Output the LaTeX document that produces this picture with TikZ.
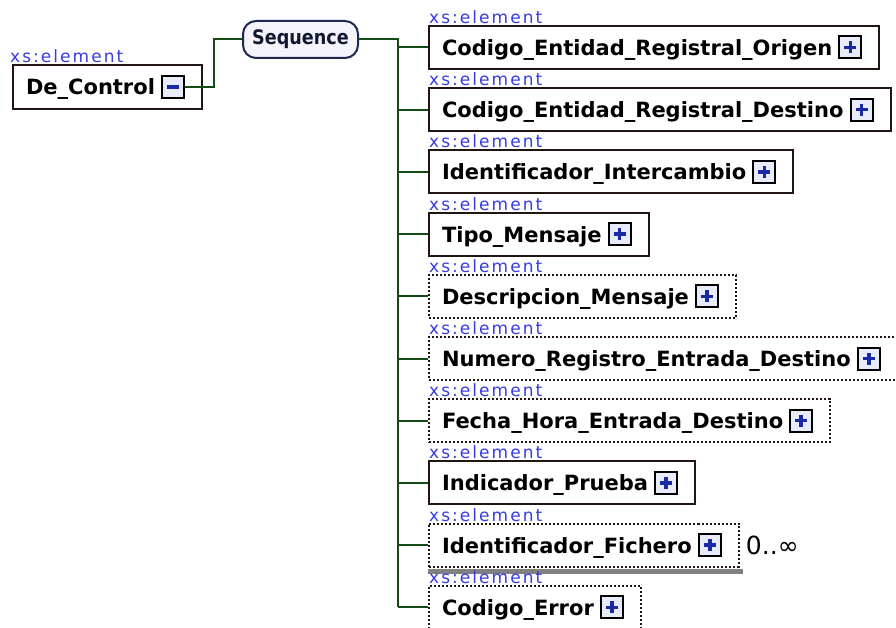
\documentclass[tikz,border=0pt]{standalone}
\usepackage{fontspec}
\setmainfont{DejaVu Sans}
\newfontfamily\xsfont[LetterSpace=12]{DejaVu Sans}
\newfontfamily\seqfont[FakeStretch=0.88]{DejaVu Sans}
\usetikzlibrary{calc}
\definecolor{conncol}{RGB}{20,75,20}
\definecolor{xsblue}{RGB}{55,60,225}
\definecolor{bord}{RGB}{35,20,20}
\definecolor{btnblue}{RGB}{25,40,165}
\definecolor{btnfill}{RGB}{232,236,250}
\definecolor{seqbord}{RGB}{30,40,80}
\definecolor{seqfill}{RGB}{244,244,250}
\definecolor{shadowgray}{RGB}{128,128,128}
\newcommand{\btngap}{\rule{34pt}{0pt}}
\tikzset{
  elbox/.style={draw=bord, line width=2pt, fill=white, minimum height=43pt,
    inner ysep=0pt, inner xsep=13pt, anchor=north west, text height=16pt,
    text depth=0pt, font=\fontsize{21}{21}\selectfont\bfseries},
  optbox/.style={elbox, dash pattern=on 2pt off 2pt},
  btn/.style={draw=black, line width=2pt, fill=btnfill, minimum size=22pt, inner sep=0pt},
  plusbtn/.style={btn, path picture={
      \draw[btnblue, line width=3.5pt] ([xshift=-6pt]path picture bounding box.center) -- ([xshift=6pt]path picture bounding box.center);
      \draw[btnblue, line width=3.5pt] ([yshift=-6pt]path picture bounding box.center) -- ([yshift=6pt]path picture bounding box.center);}},
  minusbtn/.style={btn, path picture={
      \draw[btnblue, line width=3.5pt] ([xshift=-6pt]path picture bounding box.center) -- ([xshift=6pt]path picture bounding box.center);}},
  xslab/.style={anchor=base west, inner sep=0pt, text=xsblue, font=\xsfont\fontsize{17}{17}\selectfont},
  conn/.style={draw=conncol, line width=2pt},
  seqbox/.style={draw=seqbord, line width=2pt, fill=seqfill, rounded corners=13pt,
    minimum width=115pt, minimum height=37pt, inner sep=0pt, text=seqbord!60!black,
    font=\seqfont\bfseries\fontsize{20}{20}\selectfont},
}
\begin{document}
\begin{tikzpicture}[x=1pt,y=-1pt]
\useasboundingbox (0,0) rectangle (896,628);
% root element
\node[xslab] (x0) at (10,62.5) {xs:element};
\node[elbox, minimum height=44pt] (b0) at (12,64) {De\_Control\btngap};
\node[minusbtn, anchor=east] (m0) at ([xshift=-18pt]b0.east) {};
% sequence
\node[seqbox] (seq) at (300.5,39.5) {Sequence};
\coordinate (tk) at (398,39.5);
% children
\node[xslab] (x1) at (429,23.5) {xs:element};
\node[elbox] (b1) at (428,25) {Codigo\_Entidad\_Registral\_Origen\btngap};
\node[xslab] (x2) at (429,85.7) {xs:element};
\node[elbox] (b2) at (428,87.2) {Codigo\_Entidad\_Registral\_Destino\btngap};
\node[xslab] (x3) at (429,147.9) {xs:element};
\node[elbox] (b3) at (428,149.4) {Identificador\_Intercambio\btngap};
\node[xslab] (x4) at (429,210.1) {xs:element};
\node[elbox] (b4) at (428,211.6) {Tipo\_Mensaje\btngap};
\node[xslab] (x5) at (429,272.3) {xs:element};
\node[optbox] (b5) at (428,273.8) {Descripcion\_Mensaje\btngap};
\node[xslab] (x6) at (429,334.5) {xs:element};
\node[optbox] (b6) at (428,336) {Numero\_Registro\_Entrada\_Destino\btngap};
\node[xslab] (x7) at (429,396.7) {xs:element};
\node[optbox] (b7) at (428,398.2) {Fecha\_Hora\_Entrada\_Destino\btngap};
\node[xslab] (x8) at (429,458.9) {xs:element};
\node[elbox] (b8) at (428,460.4) {Indicador\_Prueba\btngap};
\node[xslab] (x9) at (429,521.1) {xs:element};
\node[optbox] (b9) at (428,522.6) {Identificador\_Fichero\btngap};
\fill[shadowgray] ([yshift=-1pt]b9.south west) rectangle ([xshift=3pt,yshift=-6pt]b9.south east);
\node[xslab] (x10) at (429,583.3) {xs:element};
\node[optbox] (b10) at (428,584.8) {Codigo\_Error\btngap};
\foreach \i in {1,...,10}{
  \node[plusbtn, anchor=east] (p\i) at ([xshift=-18pt]b\i.east) {};
}
\node[anchor=west, inner sep=0pt, font=\fontsize{25}{25}\selectfont] (occ) at ([xshift=6pt]b9.east) {0..∞};
% connectors
\draw[conn] (m0.east) -- ++(29,0) |- (seq.west);
\draw[conn] (seq.east) -- (tk) -- (tk |- b10.west);
\foreach \i in {1,...,10}{
  \draw[conn] (tk |- b\i.west) -- (b\i.west);
}
\end{tikzpicture}
\end{document}
